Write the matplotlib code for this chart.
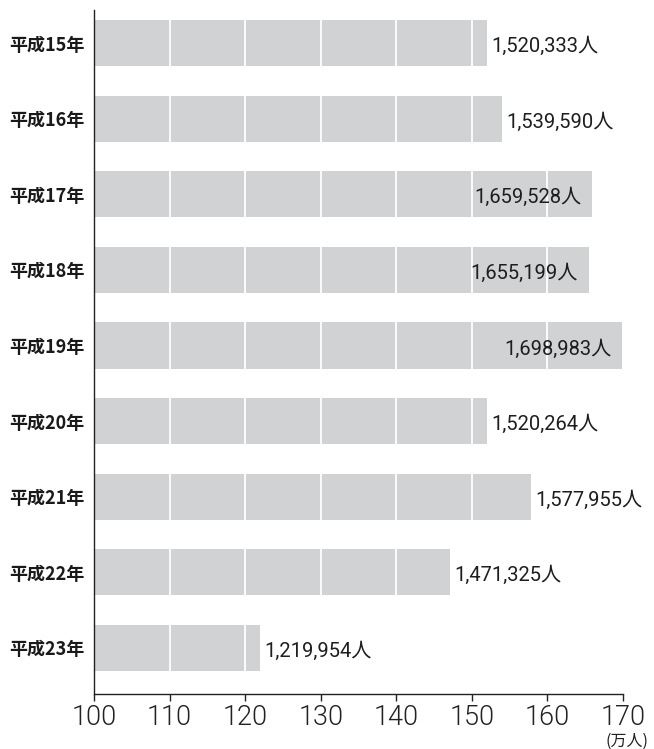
import matplotlib
matplotlib.use("Agg")
import matplotlib.pyplot as plt
from matplotlib import font_manager
from matplotlib.font_manager import FontProperties

years = ["平成15年", "平成16年", "平成17年", "平成18年", "平成19年",
         "平成20年", "平成21年", "平成22年", "平成23年"]
visitors = [1520333, 1539590, 1659528, 1655199, 1698983,
            1520264, 1577955, 1471325, 1219954]
value_labels = ["1,520,333人", "1,539,590人", "1,659,528人", "1,655,199人",
                "1,698,983人", "1,520,264人", "1,577,955人", "1,471,325人",
                "1,219,954人"]
inside = [False, False, True, True, True, False, False, False, False]
xticks = [100, 110, 120, 130, 140, 150, 160, 170]
unit_label = "(万人)"


def _w(f):
    w = f.weight
    if isinstance(w, str):
        w = {"light": 300, "extra light": 200, "ultralight": 200,
             "thin": 100, "normal": 400, "regular": 400}.get(w.lower(), 400)
    return w


light_name = None
light_file = None
for pref in ["Roboto", "Lato", "Open Sans", "Inter", "Noto Sans"]:
    cands = [f for f in font_manager.fontManager.ttflist
             if f.name == pref and f.style == "normal" and 250 <= _w(f) <= 350
             and "Condensed" not in f.fname and "Italic" not in f.fname]
    if cands:
        light_name = pref
        light_file = cands[0].fname
        break
if light_file:
    tick_fp = FontProperties(fname=light_file, size=19.5)
    val_family = [light_name, "Noto Sans CJK JP"]
else:
    tick_fp = FontProperties(family="Liberation Sans", size=19)
    val_family = ["Liberation Sans", "Noto Sans CJK JP"]

fig = plt.figure(figsize=(6.54, 7.49), dpi=100)
ax = fig.add_axes([94/654, 1-694/749, (623-94)/654, (694-10)/749])

vals = [v / 10000 for v in visitors]
ypos = list(range(len(years)))
ax.barh(ypos, [v - 100 for v in vals], left=100, height=0.61,
        color="#d1d2d4", zorder=1)
for t in xticks[1:-1]:
    ax.axvline(t, color="white", lw=1.3, zorder=2)

ax.set_xlim(100, 170)
ax.set_ylim(8.61, -0.437)

for y, v, lab, ins in zip(ypos, vals, value_labels, inside):
    off, ha = ((-8, "right") if ins else (3, "left"))
    ax.annotate(lab, (v, y), xytext=(off, -1), textcoords="offset points",
                ha=ha, va="center_baseline", fontsize=14.5,
                family=val_family, fontweight="normal",
                color="#1e1e1e", zorder=3)

ax.set_yticks(ypos)
ax.set_yticklabels(years, family=["Noto Sans CJK JP"], fontsize=13,
                   fontweight="bold", color="#1a1a1a")
ax.tick_params(axis="y", length=0, pad=7)

ax.set_xticks(xticks)
ax.set_xticklabels([str(t) for t in xticks])
for lab in ax.get_xticklabels():
    lab.set_fontproperties(tick_fp)
    lab.set_color("#222222")
ax.tick_params(axis="x", direction="out", length=5, width=1, color="#222222", pad=2)

for s in ["top", "right"]:
    ax.spines[s].set_visible(False)
for s in ["left", "bottom"]:
    ax.spines[s].set_color("#222222")
    ax.spines[s].set_linewidth(1.0)

fig.text(627/654, 1-741/749, unit_label, ha="center", va="center",
         fontsize=11.5, family=["Noto Sans CJK JP"], color="#222222")

fig.savefig("out.png", dpi=100)
